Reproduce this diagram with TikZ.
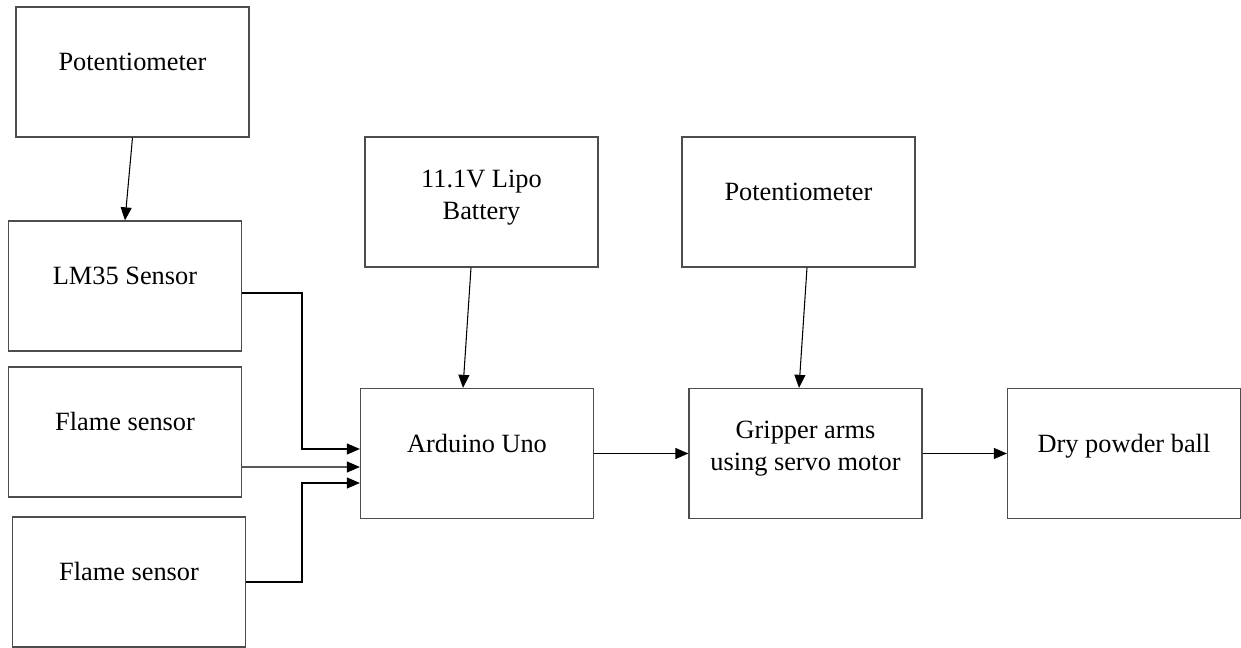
\documentclass[tikz,border=0pt]{standalone}
\usepackage{fontspec}
\setmainfont{Liberation Serif}
\usetikzlibrary{arrows.meta,positioning,calc}
\definecolor{bline}{HTML}{4D4D4D}

\begin{document}
\begin{tikzpicture}[
      x=0.02cm,y=-0.02cm,
      box/.style={rectangle,draw=bline,line width=0.75pt,
                  minimum width=4.66cm,minimum height=2.6cm,
                  inner sep=0pt,align=center,
                  text height=0.4cm,text depth=0.45cm},
      twoline/.style={text height=0.885cm,text depth=0.2cm},
      arrow/.style={-{Triangle[length=0.26cm,width=0.22cm]},line width=0.6pt,black},
      font=\fontsize{15}{18}\selectfont
    ]
    \useasboundingbox (0,0) rectangle (1241,648);

    % sensors
    \node[box] (pot1)   at (132.5, 72) {Potentiometer};
    \node[box] (lm35)   at (125,  286) {LM35 Sensor};
    \node[box] (flame1) at (125,  432) {Flame sensor};
    \node[box] (flame2) at (129,  582) {Flame sensor};

    % supply and controller
    \node[box,twoline] (battery) at (481.5,202) {11.1V Lipo\\Battery};
    \node[box] (arduino) at (477, 453.5) {Arduino Uno};

    % actuator
    \node[box] (pot2) at (798.5,202) {Potentiometer};
    \node[box,twoline] (gripper) at (805.5,453.5) {Gripper arms\\using servo motor};
    \node[box] (dry) at (1124,453.5) {Dry powder ball};

    % bus corners
    \coordinate (jlm) at (302,449);
    \coordinate (jfl) at (302,483);

    % arrows
    \draw[arrow] (pot1.south) -- (lm35.north);
    \draw[arrow] ($(lm35.east)+(0,7)$) -| (jlm) -- (jlm -| arduino.west);
    \draw[arrow] ($(flame1.east)+(0,35)$) -- ($(arduino.west)+(0,13.5)$);
    \draw[arrow] (flame2.east) -| (jfl) -- (jfl -| arduino.west);
    \draw[arrow] ($(battery.south)+(-10.5,0)$) -- ($(arduino.north)+(-14,0)$);
    \draw[arrow] ($(pot2.south)+(8.5,0)$) -- ($(gripper.north)+(-6.5,0)$);
    \draw[arrow] (arduino) -- (gripper);
    \draw[arrow] (gripper) -- (dry);

  \end{tikzpicture}
\end{document}
